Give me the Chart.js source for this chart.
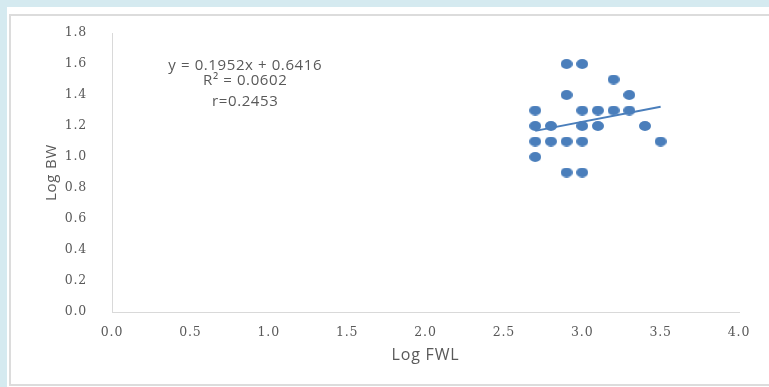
<!DOCTYPE html>
<html>
<head>
<meta charset="utf-8">
<script src="https://cdn.jsdelivr.net/npm/chart.js@4/dist/chart.umd.min.js"></script>
<style>
  html, body { margin: 0; padding: 0; background: #ffffff; }
  #page { position: relative; width: 769px; height: 387px; overflow: hidden; background: #ffffff; }
  .strip { position: absolute; background: #d5eaf0; }
  #frame { position: absolute; left: 9px; top: 14px; width: 800px; height: 368px;
           border: 2px solid #dcdcdc; box-sizing: content-box; }
  #chart { position: absolute; left: 0; top: 0; }
</style>
</head>
<body>
<div id="page">
  <div class="strip" style="left:0;top:0;width:769px;height:7px;"></div>
  <div class="strip" style="left:0;top:0;width:7px;height:387px;"></div>
  <div id="frame"></div>
  <canvas id="chart" width="769" height="387"></canvas>
</div>
<script>
// Log fork length vs log body weight
const logFWL = [2.9, 3.0, 3.2, 2.9, 3.3, 2.7, 3.0, 3.1, 3.2, 3.3, 2.7, 2.8, 3.0, 3.1, 3.4, 2.7, 2.8, 2.9, 3.0, 3.5, 2.7, 2.9, 3.0];
const logBW  = [1.6, 1.6, 1.5, 1.4, 1.4, 1.3, 1.3, 1.3, 1.3, 1.3, 1.2, 1.2, 1.2, 1.2, 1.2, 1.1, 1.1, 1.1, 1.1, 1.1, 1.0, 0.9, 0.9];

// Linear fit reported on the chart
const slope = 0.1952;
const intercept = 0.6416;
const rSquared = '0.0602';
const rValue = '0.2453';
const fitRange = [2.7, 3.5];

const xTicks = [0, 0.5, 1, 1.5, 2, 2.5, 3, 3.5, 4];
const yTicks = [0, 0.2, 0.4, 0.6, 0.8, 1.0, 1.2, 1.4, 1.6, 1.8];

const blue = '#4a7ebb';
const grey = '#595959';

// slightly oval marker
function makeDot(w, h) {
  const c = document.createElement('canvas');
  c.width = w; c.height = h;
  const g = c.getContext('2d');
  g.fillStyle = blue;
  g.beginPath();
  g.ellipse(w / 2, h / 2, w / 2, h / 2, 0, 0, Math.PI * 2);
  g.fill();
  return c;
}
const dot = makeDot(12, 10);

const points = logFWL.map((x, i) => ({ x: x, y: logBW[i] }));
const fitLine = fitRange.map(x => ({ x: x, y: slope * x + intercept }));

// wider letter spacing for all chart text
const spacedText = {
  id: 'spacedText',
  beforeDraw(chart) { chart.ctx.letterSpacing = '0.8px'; }
};

const equationLabel = {
  id: 'equationLabel',
  afterDatasetsDraw(chart) {
    const ctx = chart.ctx;
    const xs = chart.scales.x, ys = chart.scales.y;
    const cx = xs.getPixelForValue(0.85);
    ctx.save();
    ctx.letterSpacing = '0.6px';
    ctx.fillStyle = grey;
    ctx.font = '15px "Open Sans"';
    ctx.textAlign = 'center';
    ctx.textBaseline = 'middle';
    ctx.fillText('y = ' + slope + 'x + ' + intercept, cx, ys.getPixelForValue(1.59));
    ctx.fillText('R\u00B2 = ' + rSquared, cx, ys.getPixelForValue(1.49));
    ctx.fillText('r=' + rValue, cx, ys.getPixelForValue(1.355));
    ctx.restore();
  }
};

new Chart(document.getElementById('chart'), {
  type: 'scatter',
  data: {
    datasets: [
      {
        data: points,
        pointStyle: dot,
        pointRadius: 6,
        pointHoverRadius: 6,
        showLine: false
      },
      {
        data: fitLine,
        showLine: true,
        borderColor: blue,
        borderWidth: 2,
        pointRadius: 0,
        fill: false
      }
    ]
  },
  options: {
    responsive: false,
    animation: false,
    events: [],
    layout: { padding: { left: 0, top: 33, right: 30, bottom: 0 } },
    plugins: { legend: { display: false }, tooltip: { enabled: false } },
    scales: {
      x: {
        type: 'linear',
        min: 0, max: 4,
        afterFit(s) { s.height = 75; },
        afterBuildTicks(s) { s.ticks = xTicks.map(v => ({ value: v })); },
        grid: { display: false },
        border: { display: true, color: '#d9d9d9', width: 1 },
        ticks: {
          padding: 5,
          color: grey,
          font: { family: '"DejaVu Serif"', size: 12.5 },
          callback: v => Number(v).toFixed(1)
        },
        title: {
          display: true,
          text: 'Log FWL',
          color: grey,
          font: { family: '"Open Sans"', size: 16 },
          padding: { top: 0, bottom: 22 }
        }
      },
      y: {
        type: 'linear',
        min: 0, max: 1.8,
        afterFit(s) { s.width = 112; },
        afterBuildTicks(s) { s.ticks = yTicks.map(v => ({ value: v })); },
        grid: { display: false },
        border: { display: true, color: '#d9d9d9', width: 1 },
        ticks: {
          padding: 17,
          color: grey,
          font: { family: '"DejaVu Serif"', size: 12.5 },
          callback: v => Number(v).toFixed(1)
        },
        title: {
          display: true,
          text: 'Log BW',
          color: grey,
          font: { family: '"Open Sans"', size: 15 },
          padding: { top: 43, bottom: 0 }
        }
      }
    }
  },
  plugins: [spacedText, equationLabel]
});
</script>
</body>
</html>
